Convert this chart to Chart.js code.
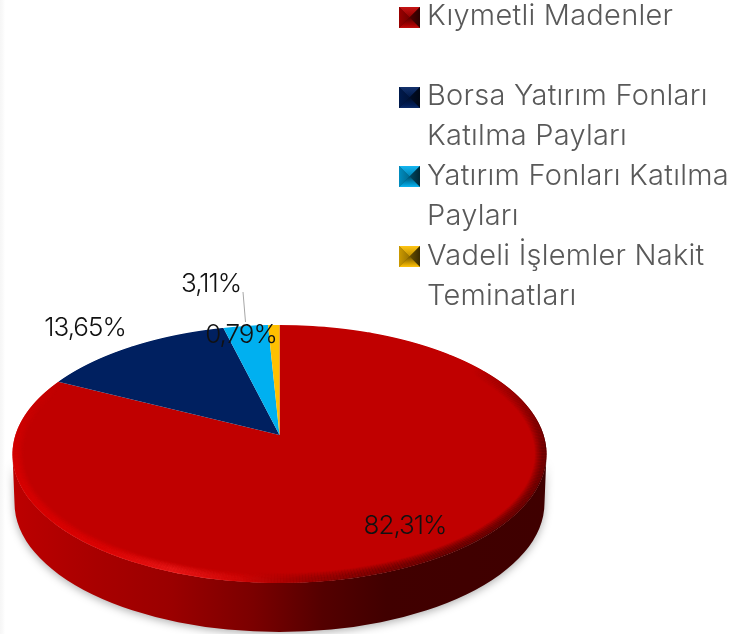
<!DOCTYPE html>
<html lang="tr"><head><meta charset="utf-8">
<script src="https://cdn.jsdelivr.net/npm/chart.js@4"></script>
<style>
html,body{margin:0;padding:0;background:#fff}
body{width:750px;height:634px;overflow:hidden;background:linear-gradient(90deg,#f6f6f6 0,#fafafa 3px,#fff 5px)}
canvas{display:block}
</style></head><body>
<canvas id="c" width="750" height="634"></canvas>
<script>
const categories = ['Kıymetli Madenler','Borsa Yatırım Fonları Katılma Payları','Yatırım Fonları Katılma Payları','Vadeli İşlemler Nakit Teminatları'];
const shares = [82.31,13.65,3.11,0.79];
const colors = ['#C00000','#002060','#00B0F0','#FFC000'];
const legendLines = [['Kıymetli Madenler'],['Borsa Yatırım Fonları','Katılma Payları'],['Yatırım Fonları Katılma','Payları'],['Vadeli İşlemler Nakit','Teminatları']];
const legendRows = [0,2,4,6];
const labelAnchors = [[405,525],[85,327],[211,283],[241,334]];

const G = {cx:279.5, apexY:435, topY:325, botY:583, rx:267, depth:49};
const k = ((G.botY-G.apexY)-(G.apexY-G.topY))/((G.botY-G.apexY)+(G.apexY-G.topY));
const b = (G.apexY-G.topY)*(1+k);
const a = G.rx*Math.sqrt(1-k*k);
const FONT = '"Inter","Open Sans",sans-serif';

function shade(hex,f){
  const n=parseInt(hex.slice(1),16);
  const c=[n>>16,(n>>8)&255,n&255].map(v=>Math.round(f<=1?v*f:v+(255-v)*(f-1)));
  return `rgb(${c[0]},${c[1]},${c[2]})`;
}
function marker(ctx,x,y,s,col){
  const m=[x+s/2,y+s/2];
  const tri=(p,fill)=>{ctx.beginPath();ctx.moveTo(p[0],p[1]);ctx.lineTo(p[2],p[3]);ctx.lineTo(m[0],m[1]);ctx.closePath();ctx.fillStyle=fill;ctx.fill();};
  ctx.fillStyle=shade(col,.5);ctx.fillRect(x,y,s,s);
  let g=ctx.createLinearGradient(0,y,0,m[1]);g.addColorStop(0,shade(col,1.08));g.addColorStop(1,shade(col,.75));
  tri([x,y,x+s,y],g);
  g=ctx.createLinearGradient(x,0,m[0],0);g.addColorStop(0,shade(col,.8));g.addColorStop(1,shade(col,.6));
  tri([x,y,x,y+s],g);
  g=ctx.createLinearGradient(x+s,0,m[0],0);g.addColorStop(0,shade(col,.22));g.addColorStop(1,shade(col,.42));
  tri([x+s,y,x+s,y+s],g);
  g=ctx.createLinearGradient(0,y+s,0,m[1]);g.addColorStop(0,shade(col,1.05));g.addColorStop(.3,shade(col,.85));g.addColorStop(1,shade(col,.45));
  tri([x,y+s,x+s,y+s],g);
}
// rim colour [r,g,b] at a horizontal position 0..1 across the pie
const rimStops=[[0,226,0,0],[.17,232,8,8],[.3,248,34,34],[.42,218,12,12],[.55,140,0,0],[.68,90,0,0],[.8,70,0,0],[1,64,0,0]];
function rimColor(o,al){
  let i=0;while(i<rimStops.length-2&&o>rimStops[i+1][0])i++;
  const A=rimStops[i],B=rimStops[i+1],t=Math.max(0,Math.min(1,(o-A[0])/(B[0]-A[0])));
  const m=j=>Math.round(A[j]+(B[j]-A[j])*t);
  return `rgba(${m(1)},${m(2)},${m(3)},${al})`;
}

const pie3d = {
  id:'pie3d',
  beforeDatasetsDraw(chart){
    const ctx=chart.ctx, base=colors[0];
    const cy=(G.topY+G.botY)/2, ry=(G.botY-G.topY)/2;
    ctx.save();
    ctx.shadowColor='rgba(0,0,0,.32)';ctx.shadowBlur=9;ctx.shadowOffsetY=2;
    const g=ctx.createLinearGradient(G.cx-G.rx,0,G.cx+G.rx,0);
    g.addColorStop(0,shade(base,.98));g.addColorStop(.15,shade(base,.88));g.addColorStop(.3,shade(base,.8));
    g.addColorStop(.45,shade(base,.64));g.addColorStop(.58,shade(base,.44));g.addColorStop(.7,shade(base,.34));g.addColorStop(1,shade(base,.33));
    ctx.fillStyle=g;
    ctx.beginPath();
    ctx.ellipse(G.cx,cy,G.rx,ry,0,Math.PI,0,true);
    ctx.ellipse(G.cx,cy+G.depth,G.rx-2,ry,0,0,Math.PI,false);
    ctx.closePath();ctx.fill();
    ctx.restore();
  },
  beforeDatasetDraw(){return false;},
  afterDatasetsDraw(chart){
    const ctx=chart.ctx, arcs=chart.getDatasetMeta(0).data, A=arcs[0];
    const R=A.outerRadius, ax=A.x, ay=A.y;
    for(let row=G.topY-1;row<=G.botY+1;row++){
      const yc=row+.5, dy=yc-G.apexY, v=dy/(b+k*dy), w=1-k*v;
      const sx=a/(R*w), sy=(b/R)/(w*w), ys=ay+R*v;
      ctx.save();
      ctx.beginPath();ctx.rect(0,row,chart.width,1);ctx.clip();
      ctx.setTransform(sx,0,0,sy,G.cx-ax*sx,yc-ys*sy);
      arcs.forEach(e=>e.draw(ctx));
      ctx.restore();
    }
    // bevelled rim, fading out towards the far side of the pie
    const cy=(G.topY+G.botY)/2, ry=(G.botY-G.topY)/2;
    const t0=-.75, t1=Math.PI+.6, dt=.012;
    ctx.save();
    ctx.beginPath();ctx.ellipse(G.cx,cy,G.rx,ry,0,0,Math.PI*2);ctx.clip();
    ctx.lineWidth=1.5;
    const N=12;
    for(let i=N;i>=0;i--){
      const ringA=Math.min(1,(1-i/N)*1.5)*.95, rx=G.rx-i, r2=ry-i*.85;
      for(let t=t0;t<t1;t+=dt){
        const fade=Math.min(1,Math.min(t-t0,t1-t)/.7);
        const o=(Math.cos(t)+1)/2;
        ctx.strokeStyle=rimColor(o,ringA*fade*(i>0?.45:1));
        ctx.beginPath();ctx.ellipse(G.cx,cy,rx,r2,0,t,t+dt+.002);ctx.stroke();
      }
    }
    ctx.restore();
  },
  afterDraw(chart){
    const ctx=chart.ctx;
    ctx.save();
    ctx.strokeStyle='#a6a6a6';ctx.lineWidth=1;
    ctx.beginPath();ctx.moveTo(243,292);ctx.lineTo(245.5,322);ctx.stroke();
    ctx.textAlign='center';ctx.textBaseline='alphabetic';
    ctx.font='300 26px '+FONT;ctx.fillStyle='#111';
    ctx.letterSpacing='-1px';
    shares.forEach((v,i)=>{
      ctx.fillText(v.toFixed(2).replace('.',',')+'%',labelAnchors[i][0],labelAnchors[i][1]+9);
    });
    ctx.textAlign='left';ctx.font='300 29px '+FONT;ctx.letterSpacing='.25px';
    legendLines.forEach((lines,i)=>{
      const r=legendRows[i];
      marker(ctx,399,7+r*40-(r>2?1:0),21,colors[i]);
      ctx.fillStyle='#595959';
      lines.forEach((t,j)=>ctx.fillText(t,427,25+(r+j)*40));
    });
    ctx.restore();
  }
};

new Chart(document.getElementById('c'),{
  type:'pie',
  data:{labels:categories,datasets:[{data:shares,backgroundColor:colors,borderWidth:0}]},
  options:{
    responsive:false,animation:false,
    layout:{padding:{left:12,right:203,top:50,bottom:49}},
    plugins:{legend:{display:false},tooltip:{enabled:false}},
    events:[]
  },
  plugins:[pie3d]
});
</script>
</body></html>
